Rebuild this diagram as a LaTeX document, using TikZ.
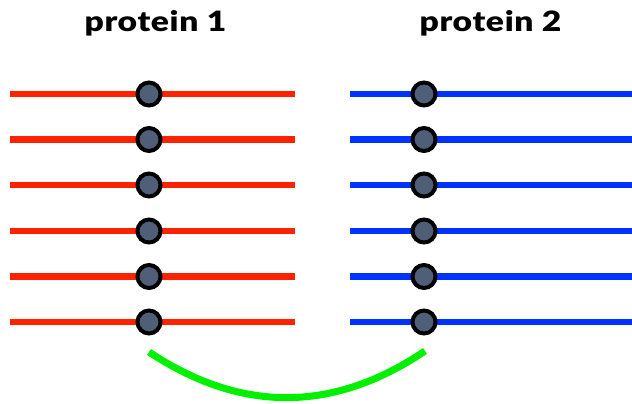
\documentclass[tikz,border=0pt]{standalone}
\usepackage{fontspec}
\setmainfont{Lato}
\newfontfamily\titlefont{Lato Black}[LetterSpace=2]
\begin{document}
\begin{tikzpicture}[x=1pt,y=-1pt,
  strand/.style={line width=6.5pt},
  site/.style={circle,draw=black,line width=4pt,fill=siteblue,minimum size=23pt,inner sep=0pt},
  title/.style={anchor=base,inner sep=0pt,xscale=1.2,font=\titlefont\fontsize{28}{32}\selectfont}]
\definecolor{pred}{RGB}{255,34,0}
\definecolor{pblue}{RGB}{0,51,255}
\definecolor{siteblue}{RGB}{80,95,120}
\definecolor{linkgreen}{RGB}{0,240,0}
\useasboundingbox (0,0) rectangle (632,404);
\node[title] (t1) at (155.5,32) {protein 1};
\node[title] (t2) at (490.5,32) {protein 2};
\foreach \i/\y in {1/94,2/139.5,3/185,4/231,5/276.5,6/322}{
  \coordinate (ra\i) at (10,\y);
  \coordinate (rb\i) at (295,\y);
  \coordinate (ba\i) at (350,\y);
  \coordinate (bb\i) at (632,\y);
  \draw[strand,pred] (ra\i) -- (rb\i);
  \draw[strand,pblue] (ba\i) -- (bb\i);
  \node[site] (r\i) at (149,\y) {};
  \node[site] (b\i) at (424,\y) {};
}
% cross-link between the two bottom sites
\coordinate (g1) at (149,352);
\coordinate (g2) at (425,351);
\draw[linkgreen,line width=7pt] (g1) .. controls (241,413) and (333,413) .. (g2);
\end{tikzpicture}
\end{document}
